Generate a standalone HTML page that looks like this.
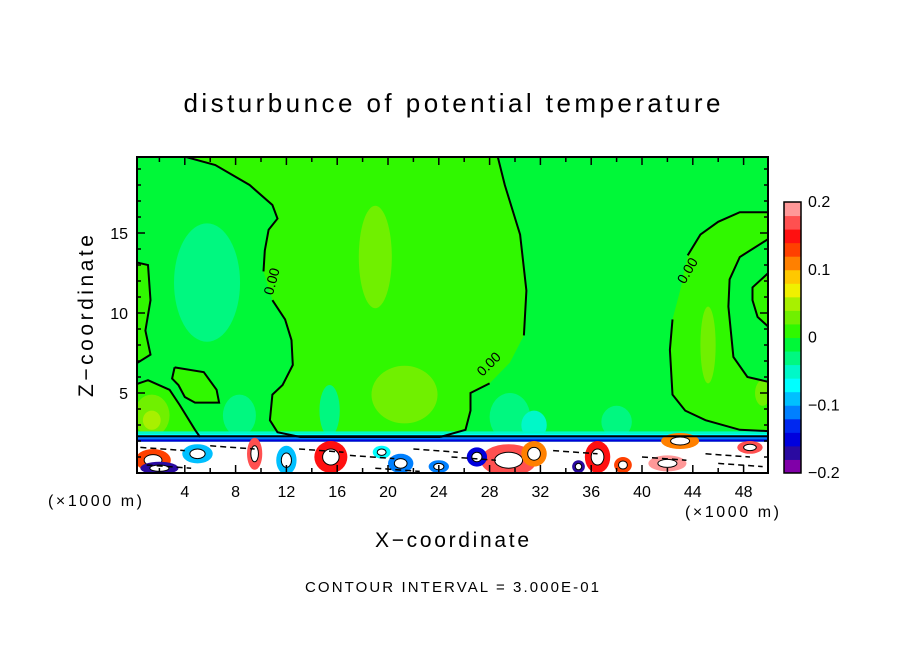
<!DOCTYPE html>
<html><head><meta charset="utf-8">
<style>
html,body{margin:0;padding:0;background:#fff;}
svg text{font-family:"Liberation Sans","DejaVu Sans",sans-serif;fill:#000;}
</style></head>
<body>
<svg id="chart" width="904" height="654" viewBox="0 0 904 654" xmlns="http://www.w3.org/2000/svg">
  <text x="452" y="112" font-size="26" text-anchor="middle" textLength="537" lengthAdjust="spacing">disturbunce of potential temperature</text>
  <defs><clipPath id="plotclip"><rect x="137" y="157" width="631" height="316"/></clipPath></defs>
  <g id="field" clip-path="url(#plotclip)"></g>
  <g id="axes"></g>
  <g id="cbar"></g>
  <text transform="translate(93,316) rotate(-90)" font-size="21" text-anchor="middle" textLength="162" lengthAdjust="spacing">Z−coordinate</text>
  <text x="452" y="547" font-size="21" text-anchor="middle" textLength="154" lengthAdjust="spacing">X−coordinate</text>
  <text x="95" y="506" font-size="16" text-anchor="middle" textLength="94" lengthAdjust="spacing">(×1000 m)</text>
  <text x="732" y="517" font-size="16" text-anchor="middle" textLength="94" lengthAdjust="spacing">(×1000 m)</text>
  <text x="452" y="592" font-size="15" text-anchor="middle" textLength="294" lengthAdjust="spacing">CONTOUR INTERVAL = 3.000E-01</text>
</svg>
<script>
// ---- data ----
var xTicks = [4, 8, 12, 16, 20, 24, 28, 32, 36, 40, 44, 48];
var zTicks = [5, 10, 15];
var cbLevels = [-0.2,-0.18,-0.16,-0.14,-0.12,-0.1,-0.08,-0.06,-0.04,-0.02,0,0.02,0.04,0.06,0.08,0.1,0.12,0.14,0.16,0.18,0.2];
var cbColors = ["#8000a8","#2a0aa0","#0000dd","#0028f0","#0080ff","#00c0ff","#00ffff","#00f8c8","#00f880","#00f838","#30f800","#70f000","#a8f000","#f0f000","#ffc800","#ff8000","#ff4000","#ff1010","#ff5050","#ff9898"];
var cbTickVals = [-0.2, -0.1, 0, 0.1, 0.2];
var cbTickLabels = ["−0.2", "−0.1", "0", "0.1", "0.2"];
var regionB = [[3.4,19.9],[6.4,19.25],[9.1,18],[10.9,16.75],[11.3,15.9],[10.6,15.2],[10.3,13.9],[10.2,12.6],[10.9,10.8],[11.9,9.6],[12.4,8.3],[12.5,6.75],[11.7,5.5],[10.9,4.9],[10.7,3.3],[11.3,2.55],[13.1,2.25],[24.1,2.25],[26.1,2.7],[26.5,3.9],[26.5,5],[28,5.6],[29.6,6.9],[30.7,8.6],[30.9,11.4],[30.4,14.9],[29.2,18],[28.6,19.9]];
var regionB2 = [[50.5,16.3],[47.7,16.3],[46,15.7],[44.6,14.9],[43.6,13.6],[43,11.4],[42.4,9.6],[42.2,7.7],[42.4,4.9],[43.4,3.9],[45,3.3],[47.7,2.7],[50.5,2.6]];
var regionInnerA = [[50.5,14.9],[47.7,13.5],[46.9,12.1],[46.8,10.4],[47.2,7.25],[48.3,6],[50.5,5.6]];
var regionInnerB = [[50.5,12.9],[48.7,11.6],[48.7,10.8],[49.1,9.75],[50.5,8.75]];
var regionLeftStrip = [[0,13.2],[1.1,13],[1.3,10.8],[0.9,8.9],[1.3,7.4],[0,6.75]];
var regionBlob = [[3.2,6.6],[5.5,6.3],[6.5,5.2],[6.7,4.4],[4.8,4.4],[4,4.75],[3.5,5.5],[3,5.9]];
var regionLowLeft = [[0,5.5],[1.1,5.8],[2.8,5.2],[3.6,4.25],[4.8,2.7],[5.2,2.25],[0,2.25]];
var anomalies = [[5.75,11.9,2.6,3.7,-0.04],[19,13.5,1.3,3.2,0.02],[21.3,4.9,2.6,1.8,0.02],[1.4,3.6,1.4,1.3,0.02],[1.4,3.3,0.7,0.6,0.04],[45.2,8,0.6,2.4,0.02],[49.5,5,0.6,0.8,0.02],[29.6,3.5,1.6,1.5,-0.04],[8.3,3.6,1.3,1.3,-0.04],[15.4,3.9,0.8,1.6,-0.04],[38,3.2,1.2,1.0,-0.04],[31.5,3,1,0.9,-0.06]];
var patches = [[1.5,0.8,1.4,0.7,0.12],[9.5,1.2,0.6,1.0,0.16],[15.5,1.0,1.3,1.0,0.14],[21,0.6,1.0,0.6,-0.12],[29.5,0.8,2.2,1.0,0.16],[31.5,1.2,1.0,0.8,0.1],[36.5,1.0,1.0,1.0,0.14],[38.5,0.5,0.7,0.5,0.12],[43,2.0,1.5,0.5,0.1],[42,0.6,1.5,0.5,0.18],[48.5,1.6,1.0,0.4,0.16],[12,0.8,0.8,0.9,-0.1],[27,1,0.8,0.6,-0.16],[24,0.4,0.8,0.4,-0.12],[5,1.2,1.2,0.6,-0.1],[35,0.4,0.5,0.4,-0.18],[2,0.3,1.5,0.4,-0.18],[19.5,1.3,0.7,0.4,-0.08]];
// ---- axis functions ----
var PX0 = 137, PX1 = 768, PY0 = 157, PY1 = 473;
function X(v){ return 134 + v*12.7; }
function Z(v){ return 473 - v*16; }
function cbY(v){ return 473 - (v + 0.2)/0.4*271; }
function colorFor(v){ var i = Math.round((v+0.2)/0.02 - 0.5); i=Math.max(0,Math.min(cbColors.length-1,i)); return cbColors[i]; }
var NS = "http://www.w3.org/2000/svg";
function mk(tag, attrs, parent){ var e=document.createElementNS(NS,tag); for(var k in attrs) e.setAttribute(k, attrs[k]); parent.appendChild(e); return e; }
function pts(arr){ return arr.map(function(p){return X(p[0]).toFixed(1)+","+Z(p[1]).toFixed(1);}).join(" "); }
var field = document.getElementById('field');
var axes = document.getElementById('axes');
var cbar = document.getElementById('cbar');
var bg = mk('rect',{x:PX0,y:PY0,width:PX1-PX0,height:PY1-PY0,fill:colorFor(-0.01)},field);


function region(arr, val, name){
  var p = mk('polygon',{points:pts(arr),fill:colorFor(val),stroke:'none'},field);
  
  
}
function ell(a, name){
  var e = mk('ellipse',{cx:X(a[0]),cy:Z(a[1]),rx:a[2]*12.7,ry:a[3]*16,fill:colorFor(a[4])},field);
  
  
}
region(regionB, 0.01, 'positive-region-center');
region(regionB2, 0.01, 'positive-region-right');
region(regionInnerA, -0.01, 'negative-region-right');
region(regionInnerB, 0.01, 'positive-region-edge');
region(regionLeftStrip, 0.01, 'positive-region-left');
region(regionBlob, 0.01, 'positive-blob');
region(regionLowLeft, 0.01, 'positive-region-lowleft');
anomalies.forEach(function(a){ ell(a,'anomaly-blob'); });
var bands = [[2.45,2.6,-0.06],[2.25,2.45,-0.08],[2.1,2.25,-0.12],[1.95,2.1,-0.16]];
bands.forEach(function(b){
  var r = mk('rect',{x:PX0,y:Z(b[1]),width:PX1-PX0,height:Z(b[0])-Z(b[1]),fill:colorFor(b[2])},field);
  
  
});
var wr = mk('rect',{x:PX0,y:Z(1.95),width:PX1-PX0,height:Z(0)-Z(1.95),fill:'#ffffff'},field);


patches.forEach(function(a){
  var e = mk('ellipse',{cx:X(a[0]),cy:Z(a[1]),rx:a[2]*12.7,ry:a[3]*16,fill:colorFor(a[4])},field);
  
  
  var e3 = mk('ellipse',{cx:X(a[0]),cy:Z(a[1]),rx:a[2]*12.7*0.5,ry:a[3]*16*0.5,fill:'#ffffff',stroke:'#000','stroke-width':1},field);
  
  
});
var dashRows = [[0.5,1.6],[13,1.5],[17,1.1],[22,1.5],[25,1.0],[33,1.4],[45,1.2],[1,0.5],[19,0.3],[46,0.6],[6,1.7],[40,1.0]];
dashRows.forEach(function(d){
  var l = mk('line',{x1:X(d[0]),y1:Z(d[1]),x2:X(d[0]+3.5),y2:Z(d[1]-0.2),stroke:'#000','stroke-width':1.5,'stroke-dasharray':'6,4'},field);
  
  
});
function cline(arr, name){
  var p = mk('polyline',{points:pts(arr),fill:'none',stroke:'#000','stroke-width':2},field);
  
  
}
cline(regionB.slice(0,8),'zero-contour-left-top');
cline(regionB.slice(8,18),'zero-contour-left-bottom');
cline(regionB.slice(17,22),'zero-contour-mid-bottom');
cline(regionB.slice(23),'zero-contour-mid-top');
cline(regionB2.slice(0,5),'zero-contour-right-top');
cline(regionB2.slice(6),'zero-contour-right-bottom');
cline(regionInnerA,'zero-contour-inner');
cline(regionInnerB,'zero-contour-innermost');
cline(regionLeftStrip,'zero-contour-edge');
cline(regionBlob.concat([regionBlob[0]]),'zero-contour-blob');
cline(regionLowLeft.slice(0,6),'zero-contour-lowleft');
cline([[0,2.3],[50,2.3]],'zero-contour-base');
var clabels = [[11.2,11.9,-75],[28.2,6.6,-45],[43.9,12.5,-60]];
clabels.forEach(function(c){
  var t = mk('text',{x:X(c[0]),y:Z(c[1]),'font-size':14,'text-anchor':'middle',transform:'rotate('+c[2]+' '+X(c[0])+' '+Z(c[1])+')'},field);
  t.textContent='0.00';
  
  
});
var fr = mk('rect',{x:PX0,y:PY0,width:PX1-PX0,height:PY1-PY0,fill:'none',stroke:'#000','stroke-width':2},axes);


for (var v=2; v<50; v+=2){
  var big = (v%4===0);
  var t1 = mk('line',{x1:X(v),y1:PY0,x2:X(v),y2:PY0+(big?8:5),stroke:'#000','stroke-width':1.5},axes);
  
  
  var t2 = mk('line',{x1:X(v),y1:PY1,x2:X(v),y2:PY1-(big?8:5),stroke:'#000','stroke-width':1.5},axes);
  
  
}
for (var w=1; w<20; w++){
  var bg2 = (w%5===0);
  var t3 = mk('line',{x1:PX0,y1:Z(w),x2:PX0+(bg2?8:4),y2:Z(w),stroke:'#000','stroke-width':1.5},axes);
  
  
  var t4 = mk('line',{x1:PX1,y1:Z(w),x2:PX1-(bg2?8:4),y2:Z(w),stroke:'#000','stroke-width':1.5},axes);
  
  
}
xTicks.forEach(function(v){
  var t = mk('text',{x:X(v),y:497,'font-size':16,'text-anchor':'middle'},axes);
  t.textContent = String(v);
  
  
});
zTicks.forEach(function(v){
  var t = mk('text',{x:128,y:Z(v)+6,'font-size':16,'text-anchor':'end'},axes);
  t.textContent = String(v);
  
  
});
for (var i=0;i<cbColors.length;i++){
  var y1 = cbY(cbLevels[i+1]), y2 = cbY(cbLevels[i]);
  var r = mk('rect',{x:784,y:y1,width:17,height:y2-y1+0.5,fill:cbColors[i]},cbar);
  
  
}
var cf = mk('rect',{x:784,y:cbY(0.2),width:17,height:cbY(-0.2)-cbY(0.2),fill:'none',stroke:'#000','stroke-width':1.5},cbar);


cbTickVals.forEach(function(v,i){
  var t = mk('text',{x:808,y:cbY(v)+5,'font-size':16},cbar);
  t.textContent = cbTickLabels[i];
  
  
});
</script>
</body></html>
